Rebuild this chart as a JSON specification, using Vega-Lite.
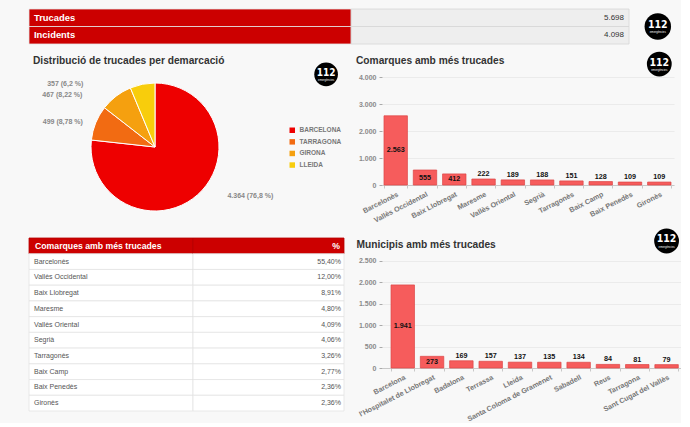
{
  "$schema": "https://vega.github.io/schema/vega-lite/v6.json",
  "background": "#f8f8f8",
  "padding": {"left": 28, "top": 8, "right": 0, "bottom": 0},
  "config": {
    "font": "Liberation Sans",
    "view": {"stroke": null},
    "locale": {"number": {"decimal": ",", "thousands": ".", "grouping": [3], "currency": ["", " €"]}},
    "title": {"font": "Liberation Sans", "fontSize": 10.2, "fontWeight": "bold", "color": "#333333", "anchor": "start", "frame": "group"},
    "axisX": {"labelAngle": -27, "labelFontSize": 7.2, "labelFontWeight": "bold", "labelColor": "#777777", "domainColor": "#c8c8c8", "tickColor": "#c8c8c8", "tickSize": 3, "tickBand": "extent", "labelPadding": 2, "grid": false},
    "axisY": {"domain": false, "ticks": true, "tickSize": 3, "tickColor": "#aaaaaa", "labelFontSize": 7, "labelFontWeight": "bold", "labelColor": "#8a8a8a", "labelPadding": 3, "gridColor": "#ebebeb"}
  },
  "bounds": "flush",
  "spacing": 33,
  "vconcat": [
    {
      "width": 600,
      "height": 35,
      "data": {"values": [{"indicador": "Trucades", "valor": "5.698"}, {"indicador": "Incidents", "valor": "4.098"}]},
      "layer": [
        {"mark": {"type": "rect", "fill": "#cc0000", "stroke": "#e4e4e4", "strokeWidth": 0.8},
         "encoding": {
           "y": {"field": "indicador", "type": "nominal", "sort": null, "axis": null, "scale": {"paddingInner": 0, "paddingOuter": 0}},
           "x": {"datum": 0, "type": "quantitative", "scale": {"domain": [0, 1], "nice": false, "zero": false}, "axis": null},
           "x2": {"datum": 0.537}}},
        {"mark": {"type": "rect", "fill": "#eeeeee", "stroke": "#d6d6d6", "strokeWidth": 0.8},
         "encoding": {
           "y": {"field": "indicador", "type": "nominal", "sort": null, "axis": null},
           "x": {"datum": 0.537, "type": "quantitative"},
           "x2": {"datum": 1}}},
        {"mark": {"type": "text", "align": "left", "baseline": "middle", "dx": 5, "fill": "#ffffff", "fontSize": 9.4, "fontWeight": "bold"},
         "encoding": {
           "y": {"field": "indicador", "type": "nominal", "sort": null, "axis": null},
           "x": {"datum": 0, "type": "quantitative"},
           "text": {"field": "indicador"}}},
        {"mark": {"type": "text", "align": "right", "baseline": "middle", "dx": -5, "fill": "#333333", "fontSize": 8},
         "encoding": {
           "y": {"field": "indicador", "type": "nominal", "sort": null, "axis": null},
           "x": {"datum": 1, "type": "quantitative"},
           "text": {"field": "valor"}}},
        {"transform": [{"filter": "datum.indicador == 'Trucades'"}],
         "mark": {"type": "point", "filled": true, "color": "#000000", "opacity": 1, "size": 700, "strokeWidth": 0},
         "encoding": {"x": {"datum": 1.048, "type": "quantitative"}}},
        {"transform": [{"filter": "datum.indicador == 'Trucades'"}],
         "mark": {"type": "text", "text": "112", "fill": "#ffffff", "fontWeight": "bold", "fontSize": 10.5, "font": "DejaVu Sans Condensed", "baseline": "middle", "dy": -1.5},
         "encoding": {"x": {"datum": 1.048, "type": "quantitative"}}},
        {"transform": [{"filter": "datum.indicador == 'Trucades'"}],
         "mark": {"type": "text", "text": "emergències", "fill": "#ffffff", "fontSize": 2.8, "baseline": "middle", "dy": 5.5},
         "encoding": {"x": {"datum": 1.048, "type": "quantitative"}}}
      ]
    },
    {
      "columns": 2,
      "spacing": {"row": 21, "column": 38},
      "bounds": "flush",
      "concat": [
        {
          "width": 252,
          "height": 140,
          "title": {"text": "Distribució de trucades per demarcació", "dx": 4, "offset": -4},
          "data": {"values": [
            {"demarcacio": "BARCELONA", "trucades": 4364, "etiqueta": "4.364 (76,8 %)", "ordre": 1},
            {"demarcacio": "TARRAGONA", "trucades": 499, "etiqueta": "499 (8,78 %)", "ordre": 2},
            {"demarcacio": "GIRONA", "trucades": 467, "etiqueta": "467 (8,22 %)", "ordre": 3},
            {"demarcacio": "LLEIDA", "trucades": 357, "etiqueta": "357 (6,2 %)", "ordre": 4}
          ]},
          "layer": [
            {"mark": {"type": "arc", "outerRadius": 64, "stroke": "#ffffff", "strokeWidth": 1},
             "encoding": {
               "theta": {"field": "trucades", "type": "quantitative", "stack": true},
               "order": {"field": "ordre", "type": "quantitative"},
               "color": {"field": "demarcacio", "type": "nominal", "sort": null,
                 "scale": {"domain": ["BARCELONA", "TARRAGONA", "GIRONA", "LLEIDA"], "range": ["#ee0000", "#f26b12", "#f5a00f", "#f8cd0c"]},
                 "legend": {"orient": "none", "legendX": 260, "legendY": 118, "title": null, "symbolType": "square", "symbolSize": 30, "symbolStrokeWidth": 0, "labelFontSize": 6.5, "labelFontWeight": "bold", "labelColor": "#777777", "rowPadding": 4.6, "labelOffset": 4}}}},
            {"mark": {"type": "text", "radius": 80, "baseline": "middle", "fontSize": 7, "fontWeight": "bold", "fill": "#888888",
               "align": {"expr": "datum.ordre == 1 ? 'left' : 'right'"},
               "dx": {"expr": "datum.ordre == 1 ? 19 : datum.ordre == 2 ? 2 : datum.ordre == 3 ? -24 : -56"},
               "dy": {"expr": "datum.ordre == 1 ? -11 : datum.ordre == 2 ? 5 : datum.ordre == 3 ? 12 : 15"}},
             "encoding": {
               "theta": {"field": "trucades", "type": "quantitative", "stack": true},
               "order": {"field": "ordre", "type": "quantitative"},
               "text": {"field": "etiqueta"}}},
            {"transform": [{"filter": "datum.ordre == 1"}],
             "mark": {"type": "point", "filled": true, "color": "#000000", "opacity": 1, "size": 560, "strokeWidth": 0},
             "encoding": {
               "x": {"datum": 1.179, "type": "quantitative", "scale": {"domain": [0, 1], "nice": false, "zero": false}, "axis": null},
               "y": {"datum": 1.019, "type": "quantitative", "scale": {"domain": [0, 1], "nice": false, "zero": false}, "axis": null}}},
            {"transform": [{"filter": "datum.ordre == 1"}],
             "mark": {"type": "text", "text": "112", "fill": "#ffffff", "fontWeight": "bold", "fontSize": 10, "font": "DejaVu Sans Condensed", "baseline": "middle", "dy": -1.5},
             "encoding": {
               "x": {"datum": 1.179, "type": "quantitative"},
               "y": {"datum": 1.019, "type": "quantitative"}}},
            {"transform": [{"filter": "datum.ordre == 1"}],
             "mark": {"type": "text", "text": "emergències", "fill": "#ffffff", "fontSize": 2.8, "baseline": "middle", "dy": 5.3},
             "encoding": {
               "x": {"datum": 1.179, "type": "quantitative"},
               "y": {"datum": 1.019, "type": "quantitative"}}}
          ]
        },
        {
          "width": 292,
          "height": 108,
          "title": {"text": "Comarques amb més trucades", "dx": -26, "offset": -15},
          "data": {"values": [
            {"comarca": "Barcelonès", "trucades": 2563},
            {"comarca": "Vallès Occidental", "trucades": 555},
            {"comarca": "Baix Llobregat", "trucades": 412},
            {"comarca": "Maresme", "trucades": 222},
            {"comarca": "Vallès Oriental", "trucades": 189},
            {"comarca": "Segrià", "trucades": 188},
            {"comarca": "Tarragonès", "trucades": 151},
            {"comarca": "Baix Camp", "trucades": 128},
            {"comarca": "Baix Penedès", "trucades": 109},
            {"comarca": "Gironès", "trucades": 109}
          ]},
          "encoding": {
            "x": {"field": "comarca", "type": "nominal", "sort": null, "scale": {"paddingInner": 0.2, "paddingOuter": 0.085, "align": 0.4}, "axis": {"title": null}}
          },
          "layer": [
            {"mark": {"type": "bar", "fill": "#f65c5c", "stroke": "#dd4545", "strokeWidth": 0.7},
             "encoding": {
               "y": {"field": "trucades", "type": "quantitative", "scale": {"domain": [0, 4000], "nice": false}, "axis": {"values": [0, 1000, 2000, 3000, 4000], "format": ",d", "title": null}}}},
            {"transform": [{"filter": "datum.trucades < 300"}],
             "mark": {"type": "text", "baseline": "bottom", "dy": -1, "fontSize": 7.2, "fontWeight": "bold", "fill": "#111111"},
             "encoding": {
               "y": {"field": "trucades", "type": "quantitative", "scale": {"domain": [0, 4000], "nice": false}, "axis": null},
               "text": {"field": "trucades", "type": "quantitative", "format": ",d"}}},
            {"transform": [{"filter": "datum.trucades >= 300"}],
             "mark": {"type": "text", "baseline": "middle", "fontSize": 7.2, "fontWeight": "bold", "fill": "#111111"},
             "encoding": {
               "y": {"field": "trucades", "type": "quantitative", "scale": {"domain": [0, 8000], "nice": false}, "axis": null},
               "text": {"field": "trucades", "type": "quantitative", "format": ",d"}}},
            {"transform": [{"filter": "datum.comarca == 'Gironès'"}],
             "mark": {"type": "point", "filled": true, "color": "#000000", "opacity": 1, "size": 616, "strokeWidth": 0},
             "encoding": {"y": {"datum": 4480, "type": "quantitative", "scale": {"domain": [0, 4000], "nice": false}, "axis": null}}},
            {"transform": [{"filter": "datum.comarca == 'Gironès'"}],
             "mark": {"type": "text", "text": "112", "fill": "#ffffff", "fontWeight": "bold", "fontSize": 10.5, "font": "DejaVu Sans Condensed", "baseline": "middle", "dy": -1.5},
             "encoding": {"y": {"datum": 4480, "type": "quantitative", "scale": {"domain": [0, 4000], "nice": false}, "axis": null}}},
            {"transform": [{"filter": "datum.comarca == 'Gironès'"}],
             "mark": {"type": "text", "text": "emergències", "fill": "#ffffff", "fontSize": 2.8, "baseline": "middle", "dy": 5.5},
             "encoding": {"y": {"datum": 4480, "type": "quantitative", "scale": {"domain": [0, 4000], "nice": false}, "axis": null}}}
          ],
          "resolve": {"scale": {"y": "independent"}}
        },
        {
          "width": 315,
          "height": 173,
          "data": {"values": [
            {"comarca": "Comarques amb més trucades", "percentatge": "%", "tipus": "capçalera"},
            {"comarca": "Barcelonès", "percentatge": "55,40%", "tipus": "fila"},
            {"comarca": "Vallès Occidental", "percentatge": "12,00%", "tipus": "fila"},
            {"comarca": "Baix Llobregat", "percentatge": "8,91%", "tipus": "fila"},
            {"comarca": "Maresme", "percentatge": "4,80%", "tipus": "fila"},
            {"comarca": "Vallès Oriental", "percentatge": "4,09%", "tipus": "fila"},
            {"comarca": "Segrià", "percentatge": "4,06%", "tipus": "fila"},
            {"comarca": "Tarragonès", "percentatge": "3,26%", "tipus": "fila"},
            {"comarca": "Baix Camp", "percentatge": "2,77%", "tipus": "fila"},
            {"comarca": "Baix Penedès", "percentatge": "2,36%", "tipus": "fila"},
            {"comarca": "Gironès", "percentatge": "2,36%", "tipus": "fila"}
          ]},
          "encoding": {
            "y": {"field": "comarca", "type": "nominal", "sort": null, "axis": null, "scale": {"paddingInner": 0, "paddingOuter": 0}}
          },
          "layer": [
            {"mark": {"type": "rect", "strokeWidth": 0.8},
             "encoding": {
               "x": {"datum": 0, "type": "quantitative", "scale": {"domain": [0, 1], "nice": false, "zero": false}, "axis": null},
               "x2": {"datum": 0.5206},
               "fill": {"condition": {"test": "datum.tipus == 'capçalera'", "value": "#cc0000"}, "value": "#ffffff"},
               "stroke": {"condition": {"test": "datum.tipus == 'capçalera'", "value": "#b50000"}, "value": "#e3e3e3"}}},
            {"mark": {"type": "rect", "strokeWidth": 0.8},
             "encoding": {
               "x": {"datum": 0.5206, "type": "quantitative"},
               "x2": {"datum": 1},
               "fill": {"condition": {"test": "datum.tipus == 'capçalera'", "value": "#cc0000"}, "value": "#ffffff"},
               "stroke": {"condition": {"test": "datum.tipus == 'capçalera'", "value": "#b50000"}, "value": "#e3e3e3"}}},
            {"transform": [{"filter": "datum.tipus == 'fila'"}],
             "mark": {"type": "text", "align": "left", "baseline": "middle", "dx": 5, "fill": "#555555", "fontSize": 7},
             "encoding": {
               "x": {"datum": 0, "type": "quantitative"},
               "text": {"field": "comarca"}}},
            {"transform": [{"filter": "datum.tipus == 'fila'"}],
             "mark": {"type": "text", "align": "right", "baseline": "middle", "dx": -3, "fill": "#555555", "fontSize": 7},
             "encoding": {
               "x": {"datum": 1, "type": "quantitative"},
               "text": {"field": "percentatge"}}},
            {"transform": [{"filter": "datum.tipus == 'capçalera'"}],
             "mark": {"type": "text", "align": "left", "baseline": "middle", "dx": 6, "fill": "#ffffff", "fontSize": 8.7, "fontWeight": "bold"},
             "encoding": {
               "x": {"datum": 0, "type": "quantitative"},
               "text": {"field": "comarca"}}},
            {"transform": [{"filter": "datum.tipus == 'capçalera'"}],
             "mark": {"type": "text", "align": "right", "baseline": "middle", "dx": -4, "fill": "#ffffff", "fontSize": 8.7, "fontWeight": "bold"},
             "encoding": {
               "x": {"datum": 1, "type": "quantitative"},
               "text": {"field": "percentatge"}}}
          ]
        },
        {
          "width": 299,
          "height": 130,
          "title": {"text": "Municipis amb més trucades", "dx": -25.5, "offset": -21.5},
          "data": {"values": [
            {"municipi": "Barcelona", "trucades": 1941},
            {"municipi": "l'Hospitalet de Llobregat", "trucades": 273},
            {"municipi": "Badalona", "trucades": 169},
            {"municipi": "Terrassa", "trucades": 157},
            {"municipi": "Lleida", "trucades": 137},
            {"municipi": "Santa Coloma de Gramenet", "trucades": 135},
            {"municipi": "Sabadell", "trucades": 134},
            {"municipi": "Reus", "trucades": 84},
            {"municipi": "Tarragona", "trucades": 81},
            {"municipi": "Sant Cugat del Vallès", "trucades": 79}
          ]},
          "encoding": {
            "x": {"field": "municipi", "type": "nominal", "sort": null, "scale": {"paddingInner": 0.2, "paddingOuter": 0.2, "align": 0.77}, "axis": {"title": null}}
          },
          "layer": [
            {"mark": {"type": "bar", "fill": "#f65c5c", "stroke": "#dd4545", "strokeWidth": 0.7},
             "encoding": {
               "y": {"field": "trucades", "type": "quantitative", "scale": {"domain": [0, 3037], "nice": false}, "axis": {"values": [0, 500, 1000, 1500, 2000, 2500], "format": ",d", "title": null}}}},
            {"transform": [{"filter": "datum.trucades < 200"}],
             "mark": {"type": "text", "baseline": "bottom", "dy": -1, "fontSize": 7.2, "fontWeight": "bold", "fill": "#111111"},
             "encoding": {
               "y": {"field": "trucades", "type": "quantitative", "scale": {"domain": [0, 3037], "nice": false}, "axis": null},
               "text": {"field": "trucades", "type": "quantitative", "format": ",d"}}},
            {"transform": [{"filter": "datum.trucades >= 200"}],
             "mark": {"type": "text", "baseline": "middle", "fontSize": 7.2, "fontWeight": "bold", "fill": "#111111"},
             "encoding": {
               "y": {"field": "trucades", "type": "quantitative", "scale": {"domain": [0, 6074], "nice": false}, "axis": null},
               "text": {"field": "trucades", "type": "quantitative", "format": ",d"}}},
            {"transform": [{"filter": "datum.municipi == 'Sant Cugat del Vallès'"}],
             "mark": {"type": "point", "filled": true, "color": "#000000", "opacity": 1, "size": 616, "strokeWidth": 0},
             "encoding": {"y": {"datum": 2967, "type": "quantitative", "scale": {"domain": [0, 3037], "nice": false}, "axis": null}}},
            {"transform": [{"filter": "datum.municipi == 'Sant Cugat del Vallès'"}],
             "mark": {"type": "text", "text": "112", "fill": "#ffffff", "fontWeight": "bold", "fontSize": 10.5, "font": "DejaVu Sans Condensed", "baseline": "middle", "dy": -1.5},
             "encoding": {"y": {"datum": 2967, "type": "quantitative", "scale": {"domain": [0, 3037], "nice": false}, "axis": null}}},
            {"transform": [{"filter": "datum.municipi == 'Sant Cugat del Vallès'"}],
             "mark": {"type": "text", "text": "emergències", "fill": "#ffffff", "fontSize": 2.8, "baseline": "middle", "dy": 5.5},
             "encoding": {"y": {"datum": 2967, "type": "quantitative", "scale": {"domain": [0, 3037], "nice": false}, "axis": null}}}
          ],
          "resolve": {"scale": {"y": "independent"}}
        }
      ]
    }
  ]
}
